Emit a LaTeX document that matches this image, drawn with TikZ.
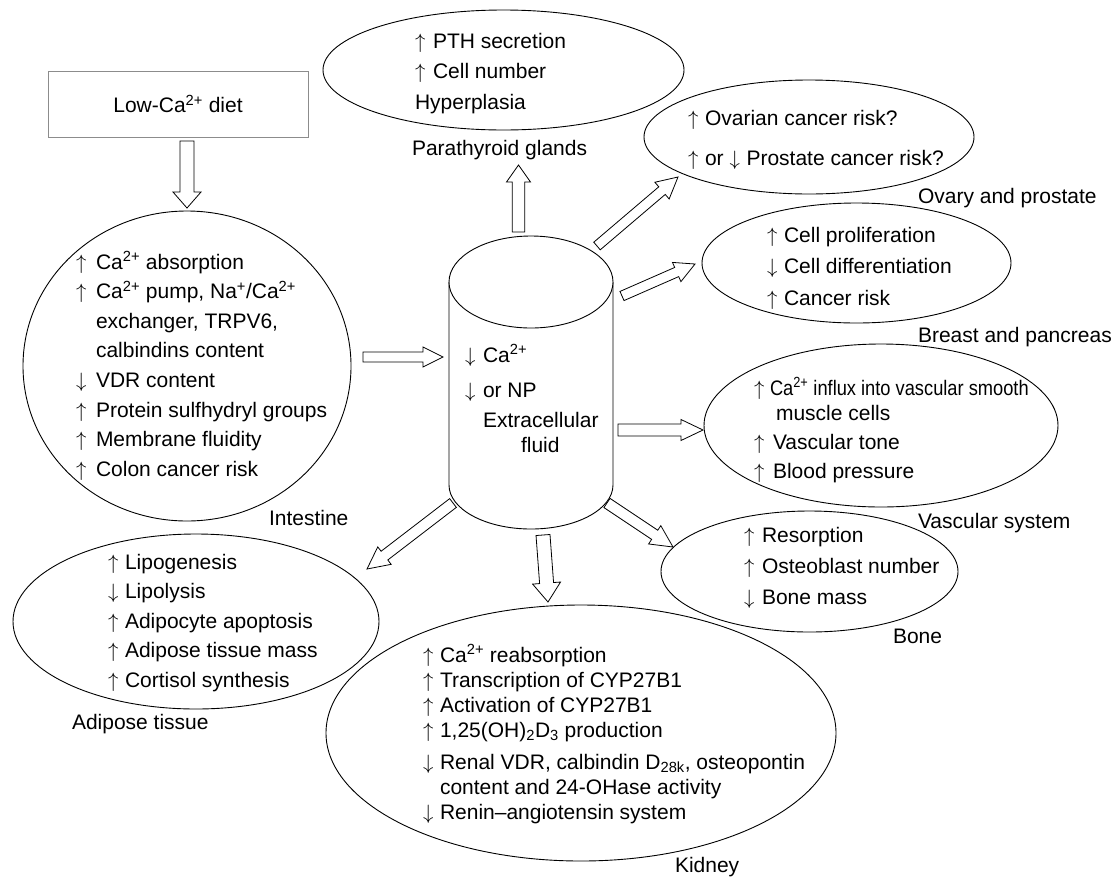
\documentclass[tikz,border=0pt]{standalone}
\usepackage{fontspec}
\setmainfont{Liberation Sans}
\usetikzlibrary{calc,shapes.geometric}
\newcommand\UpA[1][17pt]{\makebox[#1][l]{$\uparrow$}}
\newcommand\DnA[1][17pt]{\makebox[#1][l]{$\downarrow$}}
% block arrow: #1 start, #2 end, #3 shaft half width, #4 head half width, #5 head length
\newcommand\blockarr[5]{%
  \coordinate (hb) at ($(#2)!#5!(#1)$);
  \draw[blk] ($(#1)!#3!90:(#2)$) -- ($(hb)!#3!90:(#2)$) -- ($(hb)!#4!90:(#2)$) -- (#2)
    -- ($(hb)!#4!-90:(#2)$) -- ($(hb)!#3!-90:(#2)$) -- ($(#1)!#3!-90:(#2)$) -- cycle;}
\begin{document}
\begin{tikzpicture}[x=1pt,y=-1pt,
  every node/.style={font=\fontsize{21}{29.5}\selectfont},
  lst/.style={anchor=base west, inner sep=0pt, outer sep=0pt},
  lbl/.style={anchor=base west, inner sep=0pt, outer sep=0pt},
  ell/.style={draw, ellipse, inner sep=0pt, outer sep=0pt, line width=0.9pt},
  blk/.style={draw, fill=white, line width=0.8pt, line join=miter},
  dietbox/.style={draw=black!45, line width=1pt, rectangle, inner sep=0pt, minimum width=260pt, minimum height=66pt}]
\useasboundingbox (0,0) rectangle (1116,876);

% ellipses
\node[ell, minimum width=361pt, minimum height=120pt] (para) at (503.5,70) {};
\node[ell, minimum width=330pt, minimum height=114pt] (ovary) at (809,137) {};
\node[ell, minimum width=309pt, minimum height=120pt] (breast) at (856.5,263) {};
\node[ell, minimum width=354pt, minimum height=163pt] (vasc) at (881,425.5) {};
\node[ell, minimum width=297pt, minimum height=121pt] (bone) at (809.5,571.5) {};
\node[ell, minimum width=510pt, minimum height=256pt] (kidney) at (581,733) {};
\node[ell, minimum width=366pt, minimum height=175pt] (adipose) at (196,621.5) {};
\node[ell, minimum width=328pt, minimum height=310pt] (intest) at (187,366) {};

% diet box
\node[dietbox] (diet) at (178,104) {Low-Ca\textsuperscript{2+} diet};

% arrow end points
\coordinate (a1s) at (187,141);  \coordinate (a1e) at (187,208);
\coordinate (a2s) at (363,357);  \coordinate (a2e) at (443,357);
\coordinate (a3s) at (518.5,232); \coordinate (a3e) at (518.5,165);
\coordinate (a4s) at (597,246);  \coordinate (a4e) at (678,177);
\coordinate (a5s) at (622,296);  \coordinate (a5e) at (695,264);
\coordinate (a6s) at (618,430);  \coordinate (a6e) at (703,430);
\coordinate (a7s) at (607,503);  \coordinate (a7e) at (673,547);
\coordinate (a8s) at (543,535);  \coordinate (a8e) at (548,602);
\coordinate (a9s) at (453,503);  \coordinate (a9e) at (367,569);

\blockarr{a1s}{a1e}{7pt}{14pt}{16pt}
\blockarr{a2s}{a2e}{5pt}{10pt}{20pt}
\blockarr{a3s}{a3e}{6.2pt}{12pt}{17pt}
\blockarr{a4s}{a4e}{5pt}{11pt}{21pt}
\blockarr{a5s}{a5e}{5pt}{10.5pt}{20pt}
\blockarr{a6s}{a6e}{6pt}{10.5pt}{22pt}
\blockarr{a7s}{a7e}{5.5pt}{11pt}{22pt}
\blockarr{a8s}{a8e}{7pt}{14pt}{19pt}
\blockarr{a9s}{a9e}{5.5pt}{11pt}{22pt}

% cylinder (extracellular fluid)
\draw[fill=white, line width=0.9pt] (449,282) -- (449,485)
   arc[start angle=180, end angle=360, x radius=82pt, y radius=44pt] -- (613,282);
\draw[fill=white, line width=0.9pt] (531,282) ellipse [x radius=82pt, y radius=46pt];
\node[lst] (tecf) at (465,362) {\parbox[t]{200pt}{\fontsize{21}{25}\selectfont
  \DnA[18pt]Ca\textsuperscript{2+}\\[10pt]
  \DnA[18pt]or NP\\[5pt]
  \hspace*{18pt}Extracellular\\
  \hspace*{56pt}fluid}};

% texts inside ellipses
\node[lst] (tpara) at (415,48) {\parbox[t]{300pt}{\fontsize{21}{30.5}\selectfont
  \UpA[18pt]PTH secretion\\
  \UpA[18pt]Cell number\\
  Hyperplasia}};

\node[lst] (tovary) at (688,125) {\parbox[t]{300pt}{\fontsize{21}{40}\selectfont
  \UpA Ovarian cancer risk?\\
  \UpA or~\DnA Prostate cancer risk?}};

\node[lst] (tbreast) at (767,242) {\parbox[t]{300pt}{\fontsize{21}{31.5}\selectfont
  \UpA Cell proliferation\\
  \DnA Cell differentiation\\
  \UpA Cancer risk}};

\node[lst] (tvasc) at (754,395) {\parbox[t]{330pt}{\fontsize{21}{29}\selectfont
  \UpA[16pt]\scalebox{0.87}[1]{Ca\textsuperscript{2+} influx into vascular smooth}\\[-4pt]
  \hspace*{22pt}muscle cells\\
  \UpA[19pt]Vascular tone\\
  \UpA[19pt]Blood pressure}};

\node[lst] (tbone) at (744,542) {\parbox[t]{300pt}{\fontsize{21}{31}\selectfont
  \UpA[18pt]Resorption\\
  \UpA[18pt]Osteoblast number\\
  \DnA[18pt]Bone mass}};

\node[lst] (tkidney) at (423,662) {\parbox[t]{420pt}{\fontsize{21}{25}\selectfont
  \UpA Ca\textsuperscript{2+} reabsorption\\
  \UpA Transcription of CYP27B1\\
  \UpA Activation of CYP27B1\\
  \UpA 1,25(OH)\textsubscript{2}D\textsubscript{3} production\\[7pt]
  \DnA Renal VDR, calbindin D\textsubscript{28k}, osteopontin\\
  \hspace*{17pt}content and 24-OHase activity\\
  \DnA Renin--angiotensin system}};

\node[lst] (tadip) at (108,569) {\parbox[t]{300pt}{\fontsize{21}{29.5}\selectfont
  \UpA Lipogenesis\\
  \DnA Lipolysis\\
  \UpA Adipocyte apoptosis\\
  \UpA Adipose tissue mass\\
  \UpA Cortisol synthesis}};

\node[lst] (tint) at (76,269) {\parbox[t]{300pt}{\fontsize{21}{29.6}\selectfont
  \UpA[20pt]Ca\textsuperscript{2+} absorption\\
  \UpA[20pt]Ca\textsuperscript{2+} pump, Na\textsuperscript{+}/Ca\textsuperscript{2+}\\
  \hspace*{20pt}exchanger, TRPV6,\\
  \hspace*{20pt}calbindins content\\
  \DnA[20pt]VDR content\\
  \UpA[20pt]Protein sulfhydryl groups\\
  \UpA[20pt]Membrane fluidity\\
  \UpA[20pt]Colon cancer risk}};

% organ labels
\node[lbl] (lpara) at (412,155) {Parathyroid glands};
\node[lbl] (lovary) at (918,203) {Ovary and prostate};
\node[lbl] (lbreast) at (918,342) {Breast and pancreas};
\node[lbl] (lvasc) at (918,528) {Vascular system};
\node[lbl] (lbone) at (893,643) {Bone};
\node[lbl] (lkidney) at (675,872) {Kidney};
\node[lbl] (lint) at (269,525) {Intestine};
\node[lbl] (ladip) at (72,729) {Adipose tissue};
\end{tikzpicture}
\end{document}
